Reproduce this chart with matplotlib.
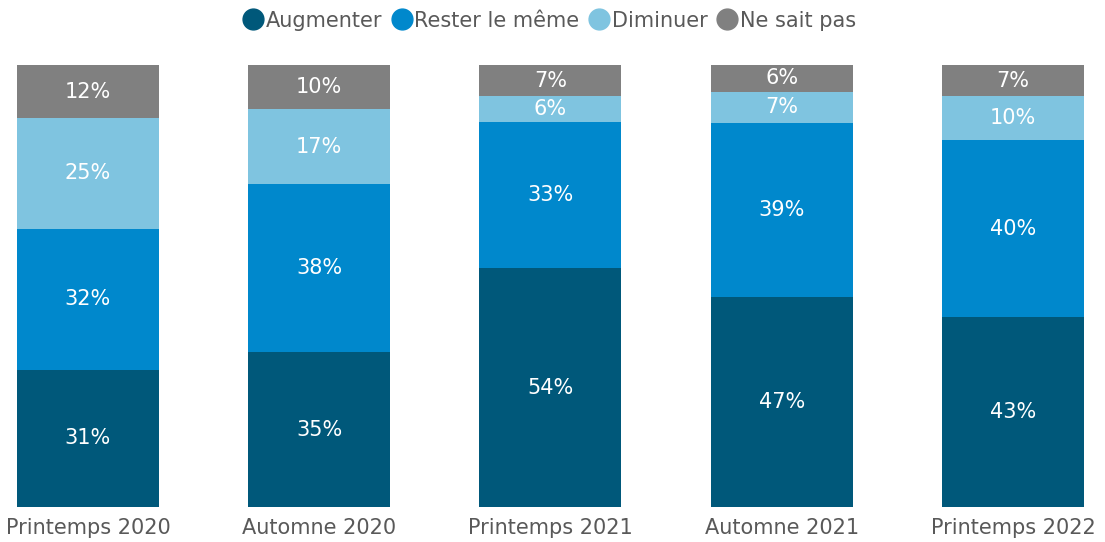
import matplotlib
matplotlib.use("Agg")
import matplotlib.pyplot as plt
import numpy as np
from matplotlib.lines import Line2D

plt.rcParams["font.family"] = ["DejaVu Sans"]

categories = ["Printemps 2020", "Automne 2020", "Printemps 2021", "Automne 2021", "Printemps 2022"]
series_names = ["Augmenter", "Rester le même", "Diminuer", "Ne sait pas"]
augmenter = [31, 35, 54, 47, 43]
rester = [32, 38, 33, 39, 40]
diminuer = [25, 17, 6, 7, 10]
ne_sait_pas = [12, 10, 7, 6, 7]
colors = ["#00587A", "#0088CC", "#7FC4E0", "#808080"]

data = np.array([augmenter, rester, diminuer, ne_sait_pas], dtype=float)
totals = data.sum(axis=0)
shares = data / totals

fig = plt.figure(figsize=(11.05, 5.42), dpi=100)
ax = fig.add_axes([0, 0.0646, 1, 0.8154])
x = np.arange(len(categories))
bottom = np.zeros(len(categories))
for i, name in enumerate(series_names):
    bars = ax.bar(x, shares[i], 0.614, bottom=bottom, color=colors[i], label=name)
    for j, b in enumerate(bars):
        ax.text(b.get_x() + b.get_width() / 2, bottom[j] + shares[i][j] / 2,
                f"{int(data[i][j])}%", ha="center", va="center",
                color="white", fontsize=15)
    bottom += shares[i]

ax.set_xlim(-0.3805, 4.398)
ax.set_ylim(0, 1)
ax.set_xticks(x)
ax.set_xticklabels(categories, fontsize=15, color="#595959")
ax.tick_params(axis="x", length=0, pad=8)
ax.set_yticks([])
for s in ax.spines.values():
    s.set_visible(False)

handles = [Line2D([0], [0], marker="o", linestyle="", markersize=15,
                  markerfacecolor=c, markeredgecolor=c) for c in colors]
fig.legend(handles, series_names, loc="center", bbox_to_anchor=(0.497, 0.962),
           ncol=4, frameon=False, fontsize=15, labelcolor="#595959",
           handletextpad=0.1, columnspacing=0.45, handlelength=1.0)

fig.savefig("out.png", dpi=100)
